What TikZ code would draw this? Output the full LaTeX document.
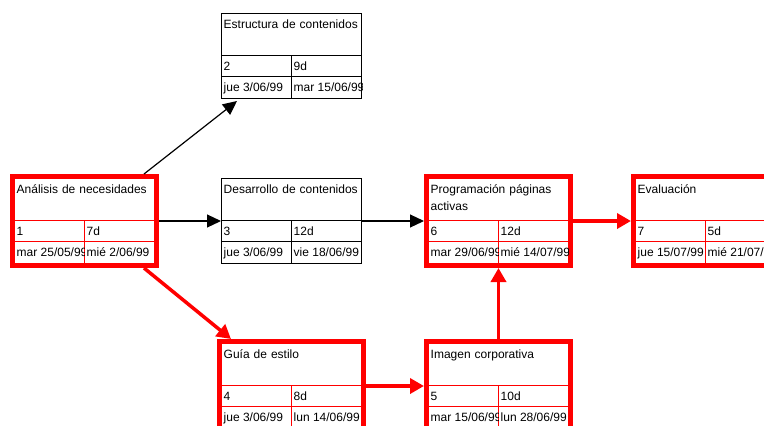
\documentclass[tikz,border=0pt]{standalone}
\usepackage{fontspec}
\setmainfont{Liberation Sans}
\usetikzlibrary{arrows.meta}

\tikzset{
  task/.style={draw, line width=1pt, minimum width=140pt, minimum height=85pt,
    anchor=north west, inner sep=0pt},
  tasktext/.style={font=\fontsize{12pt}{17pt}\selectfont, inner sep=0pt, anchor=base west},
  critframe/.style={draw=red, line width=3.6pt},
  link/.style={-{Triangle[length=14pt,width=13pt]}, line width=1.2pt, black},
  critlink/.style={-{Triangle[length=14pt,width=15pt]}, line width=3.5pt, red}
}

% #1 name, #2 colour, #3 position, #4 title, #5 number, #6 duration, #7 start, #8 end
\newcommand\taskbox[8]{%
  \node[task, draw=#2] (#1) at #3 {};
  \node[tasktext, text width=135pt, align=left] at ([shift={(2.5pt,-15pt)}]#1.north west) {#4};
  \draw[#2, line width=1pt]
    ([yshift=-42pt]#1.north west) -- ([yshift=-42pt]#1.north east)
    ([yshift=-63pt]#1.north west) -- ([yshift=-63pt]#1.north east)
    ([shift={(70pt,-42pt)}]#1.north west) -- ([xshift=70pt]#1.south west);
  \begin{scope}
    \clip ([yshift=-42pt]#1.north west) rectangle ([xshift=70pt]#1.south west);
    \node[tasktext] at ([shift={(2.5pt,-57pt)}]#1.north west) {#5};
    \node[tasktext] at ([shift={(2.5pt,-78pt)}]#1.north west) {#7};
  \end{scope}
  \begin{scope}
    \clip ([shift={(70pt,-42pt)}]#1.north west) rectangle (#1.south east);
    \node[tasktext] at ([shift={(72.5pt,-57pt)}]#1.north west) {#6};
    \node[tasktext] at ([shift={(72.5pt,-78pt)}]#1.north west) {#8};
  \end{scope}}

\begin{document}
\begin{tikzpicture}[x=1pt, y=-1pt]
  \clip (0,0) rectangle (764,426);
  \fill[white] (0,0) rectangle (764,426);

  % tasks
  \taskbox{analisis}{red}{(14,178)}{Análisis de necesidades}{1}{7d}{mar 25/05/99}{mié 2/06/99}
  \taskbox{estructura}{black}{(221,13)}{Estructura de contenidos}{2}{9d}{jue 3/06/99}{mar 15/06/99}
  \taskbox{desarrollo}{black}{(221,178)}{Desarrollo de contenidos}{3}{12d}{jue 3/06/99}{vie 18/06/99}
  \taskbox{guia}{red}{(221,343)}{Guía de estilo}{4}{8d}{jue 3/06/99}{lun 14/06/99}
  \taskbox{imagen}{red}{(428,343)}{Imagen corporativa}{5}{10d}{mar 15/06/99}{lun 28/06/99}
  \taskbox{programacion}{red}{(428,178)}{Programación páginas activas}{6}{12d}{mar 29/06/99}{mié 14/07/99}
  \taskbox{evaluacion}{red}{(635,178)}{Evaluación}{7}{5d}{jue 15/07/99}{mié 21/07/99}

  % critical path frames
  \foreach \t in {analisis,guia,imagen,programacion,evaluacion}
    \draw[critframe] ([shift={(-2pt,2pt)}]\t.north west) rectangle ([shift={(2pt,-2pt)}]\t.south east);

  % dependencies
  \draw[link] ([shift={(-11pt,4pt)}]analisis.north east) -- ([shift={(16pt,-2pt)}]estructura.south west);
  \draw[link] ([xshift=4pt]analisis.east) -- (desarrollo.west);
  \draw[link] (desarrollo.east) -- ([xshift=-4pt]programacion.west);
  \draw[critlink] ([shift={(-11pt,-4pt)}]analisis.south east) -- ([shift={(10pt,4pt)}]guia.north west);
  \draw[critlink] ([xshift=4pt]guia.east) -- ([xshift=-4pt]imagen.west);
  \draw[critlink] ([yshift=4pt]imagen.north) -- ([yshift=-4pt]programacion.south);
  \draw[critlink] ([xshift=4pt]programacion.east) -- ([xshift=-4pt]evaluacion.west);
\end{tikzpicture}
\end{document}
